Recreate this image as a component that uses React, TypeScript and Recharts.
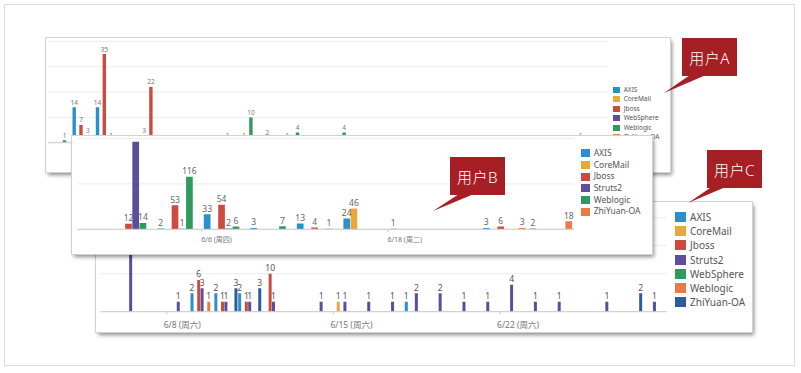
import React from 'react'
import { BarChart, Bar, XAxis, YAxis, CartesianGrid, LabelList } from 'recharts'

const FONT = "'Noto Sans', 'Noto Sans CJK SC', sans-serif"
const palette = ['#2b8fcb', '#eba83a', '#cd4b3e', '#5b4e9d', '#2f9a5c', '#e97b47', '#2d5c98']
const _ = null

// 用户A (daily)
const aDates = ['6/1', '6/2', '6/3', '6/4', '6/5', '6/6', '6/7', '6/8', '6/9', '6/10', '6/11', '6/12',
  '6/13', '6/14', '6/15', '6/16', '6/17', '6/18', '6/19', '6/20', '6/21', '6/22', '6/23', '6/24']
const aSeries = ['AXIS', 'CoreMail', 'Jboss', 'WebSphere', 'Weblogic', 'ZhiYuan-OA']
const aAXIS = [_, 14, 14, _, 3, _, _, _, _, _, _, _, _, _, _, _, _, _, _, _, _, _, _, _]
const aCoreMail = [_, _, _, _, _, _, _, _, _, _, 1, _, _, _, _, _, _, _, _, _, _, _, _, _]
const aJboss = [_, 7, 35, _, 22, _, _, _, 1, 2, _, _, _, _, _, _, _, _, _, _, _, _, _, _]
const aWebSphere = [_, _, _, _, _, _, _, _, _, _, _, _, _, _, _, _, _, _, _, _, _, _, _, _]
const aWeblogic = [1, 3, 1, _, _, _, _, 1, 10, _, 4, _, 4, _, _, _, _, _, _, _, _, _, _, _]
const aZhiYuan = [_, _, _, _, _, _, _, _, _, _, _, _, _, _, _, _, _, _, _, _, _, _, 1, _]

// 用户B (3-day bins)
const bDates = ['5/31', '6/3', '6/6', '6/9', '6/12', '6/15', '6/18', '6/21', '6/24', '6/27']
const bTickLabels = ['6/6 (周四)', '6/18 (周二)']
const bSeries = ['AXIS', 'CoreMail', 'Jboss', 'Struts2', 'Weblogic', 'ZhiYuan-OA']
const bAXIS = [_, 2, 33, 3, 13, 24, 1, _, 3, 2]
const bCoreMail = [_, _, _, _, _, 46, _, _, _, _]
const bJboss = [12, 53, 54, _, 4, _, _, _, 6, _]
const bStruts2 = [193, 1, 2, _, _, _, _, _, _, _]
const bWeblogic = [14, 116, 6, 7, 1, _, _, _, _, _]
const bZhiYuan = [_, _, _, _, _, _, _, _, 3, 18]

// 用户C (daily, log axis)
const cDates = ['6/6', '6/7', '6/8', '6/9', '6/10', '6/11', '6/12', '6/13', '6/14', '6/15', '6/16', '6/17',
  '6/18', '6/19', '6/20', '6/21', '6/22', '6/23', '6/24', '6/25', '6/26', '6/27', '6/28']
const cTickLabels = ['6/8 (周六)', '6/15 (周六)', '6/22 (周六)']
const cSeries = ['AXIS', 'CoreMail', 'Jboss', 'Struts2', 'WebSphere', 'Weblogic', 'ZhiYuan-OA']
const cAXIS = [_, _, _, 2, 2, 2, _, _, _, _, _, _, 1, _, _, _, _, _, _, _, _, _, _]
const cCoreMail = [_, _, _, _, _, _, _, _, _, 1, _, _, _, _, _, _, _, _, _, _, _, _, _]
const cJboss = [_, _, _, 6, 1, 1, 10, _, _, _, _, _, _, _, _, _, _, _, _, _, _, _, _]
const cStruts2 = [200, _, 1, 3, 1, 1, 1, _, 1, 1, 1, 1, 2, 2, 1, 1, 4, 1, 1, _, 1, _, 1]
const cWebSphere = [_, _, _, _, _, _, _, _, _, _, _, _, _, _, _, _, _, _, _, _, _, _, _]
const cWeblogic = [_, _, _, 1, _, _, _, _, _, _, _, _, _, _, _, _, _, _, _, _, _, _, _]
const cZhiYuan = [_, _, _, _, 3, 3, _, _, _, _, _, _, _, _, _, _, _, _, _, _, _, 2, _]

const toRows = (dates: string[], series: string[], values: (number | null)[][]) =>
  dates.map((date, i) => {
    const row: Record<string, any> = { date }
    series.forEach((s, j) => { row[s] = values[j][i] })
    return row
  })

const aData = toRows(aDates, aSeries, [aAXIS, aCoreMail, aJboss, aWebSphere, aWeblogic, aZhiYuan])
const bData = toRows(bDates, bSeries, [bAXIS, bCoreMail, bJboss, bStruts2, bWeblogic, bZhiYuan])
const cData = toRows(cDates, cSeries, [cAXIS, cCoreMail, cJboss, cStruts2, cWebSphere, cWeblogic, cZhiYuan])

const valueLabel = (fontSize: number, fill: string, top: number) => (props: any) => {
  if (props.value == null) return null
  const vb = props.viewBox ?? props
  const { x, y, width } = vb
  if (!Number.isFinite(y) || y - fontSize - 2 < top) return null
  return (
    <text x={x + width / 2} y={y - 2.5} textAnchor="middle" fontSize={fontSize} fill={fill}>
      {props.value}
    </text>
  )
}

const DateTick = ({ x, y, payload, labels, band, fontSize, dx, dy }: any) => {
  const label = labels.find((l: string) => l.split(' ')[0] === payload.value)
  if (!label) return null
  const x0 = x - band / 2
  return (
    <g>
      <line x1={x0} x2={x0} y1={y} y2={y + 3} stroke="#ccc" />
      <text x={x0 + dx} y={y + dy} fontSize={fontSize} fill="#777" textAnchor="start">{label}</text>
    </g>
  )
}

const SeriesLegend = ({ names, left, top, row, sw, sh, fontSize }: any) => (
  <div style={{ position: 'absolute', left, top }}>
    {names.map((n: string, i: number) => (
      <div key={n} style={{ display: 'flex', alignItems: 'center', height: row }}>
        <span style={{ width: sw, height: sh, background: palette[i], marginRight: 4, flex: 'none' }} />
        <span style={{ fontSize, color: '#555', whiteSpace: 'nowrap', lineHeight: 1 }}>{n}</span>
      </div>
    ))}
  </div>
)

const panelStyle = (left: number, top: number, width: number, height: number): React.CSSProperties => ({
  position: 'absolute', left, top, width, height, background: '#fff', overflow: 'hidden',
  boxShadow: '0 0 0 1px #d2d2d2, 2px 3px 4px rgba(0,0,0,0.45)',
})

const Callout = ({ left, top, text }: any) => (
  <div style={{
    position: 'absolute', left, top, width: 55, height: 38, background: '#a61f25',
    color: '#fff', fontSize: 15, fontWeight: 300, display: 'flex', alignItems: 'center',
    justifyContent: 'center', letterSpacing: 0.5,
  }}>{text}</div>
)

export default function App() {
  return (
    <div style={{ position: 'absolute', left: 0, top: 0, width: 801, height: 373, background: '#fff', fontFamily: FONT }}>
      <div style={{ position: 'absolute', left: 4, top: 4, width: 791, height: 362, boxSizing: 'border-box', border: '1px solid #dcdcdc' }} />

      {/* 用户A */}
      <div style={panelStyle(46, 38, 624, 134)}>
        <BarChart width={624} height={134} data={aData} barSize={3.4} barGap={0}
          margin={{ top: 3.4, right: 62.6, bottom: 28.3, left: 2.2 }}>
          <CartesianGrid horizontal vertical={false} stroke="#ececec" />
          <XAxis dataKey="date" height={1} tick={false} tickLine={false} axisLine={{ stroke: '#ccc' }} />
          <YAxis hide type="number" domain={[0, 40]} ticks={[0, 10, 20, 30]} allowDataOverflow />
          {aSeries.map((s, i) => (
            <Bar key={s} dataKey={s} fill={palette[i]} isAnimationActive={false}>
              <LabelList content={valueLabel(6.5, '#777', 3.4)} />
            </Bar>
          ))}
        </BarChart>
        <SeriesLegend names={aSeries} left={566.7} top={47.2} row={9.5} sw={7} sh={6} fontSize={6.5} />
      </div>

      {/* 用户C */}
      <div style={panelStyle(96, 202, 656, 130)}>
        <BarChart width={656} height={130} data={cData} barSize={3} barGap={0.35}
          margin={{ top: 15.7, right: 85.3, bottom: 0, left: 4 }}>
          <CartesianGrid horizontal vertical={false} stroke="#ececec" />
          <XAxis dataKey="date" height={20.3} interval={0} tickSize={0} tickMargin={0} tickLine={false}
            axisLine={{ stroke: '#ccc' }} padding={{ left: 19.1, right: 0 }}
            tick={<DateTick labels={cTickLabels} band={23.81} fontSize={8.5} dx={-3} dy={16} />} />
          <YAxis hide type="number" scale="log" domain={[0.44, 1000]} ticks={[10, 100]} allowDataOverflow />
          {cSeries.map((s, i) => (
            <Bar key={s} dataKey={s} fill={palette[i]} isAnimationActive={false}>
              <LabelList content={valueLabel(8.5, '#555', 0)} />
            </Bar>
          ))}
        </BarChart>
        <SeriesLegend names={cSeries} left={579} top={7.5} row={14.3} sw={11} sh={10} fontSize={10} />
      </div>

      {/* 用户B */}
      <div style={panelStyle(72, 136, 580, 118)}>
        <BarChart width={580} height={118} data={bData} barSize={6.7} barGap={0.5}
          margin={{ top: 2.6, right: 78, bottom: 0, left: 5 }}>
          <CartesianGrid horizontal vertical={false} stroke="#ececec" />
          <XAxis dataKey="date" height={24.7} interval={0} tickSize={0} tickMargin={0} tickLine={false}
            axisLine={{ stroke: '#ccc' }} padding={{ left: 31.75, right: 0 }}
            tick={<DateTick labels={bTickLabels} band={46.525} fontSize={7} dx={-0.5} dy={12.5} />} />
          <YAxis hide type="number" domain={[0, 200]} ticks={[0, 100]} allowDataOverflow />
          {bSeries.map((s, i) => (
            <Bar key={s} dataKey={s} fill={palette[i]} isAnimationActive={false}>
              <LabelList content={valueLabel(8.5, '#666', 2.6)} />
            </Bar>
          ))}
        </BarChart>
        <SeriesLegend names={bSeries} left={508.7} top={11.4} row={11.7} sw={9} sh={8} fontSize={8.5} />
      </div>

      <svg width={801} height={373} style={{ position: 'absolute', left: 0, top: 0, pointerEvents: 'none' }}>
        <polygon points="690,75 706,75 664,93" fill="#a61f25" />
        <polygon points="459,194 474,194 433,211" fill="#a61f25" />
        <polygon points="713,186 728,186 688,203" fill="#a61f25" />
      </svg>
      <Callout left={682} top={38} text="用户A" />
      <Callout left={450} top={157} text="用户B" />
      <Callout left={707} top={150} text="用户C" />
    </div>
  )
}
